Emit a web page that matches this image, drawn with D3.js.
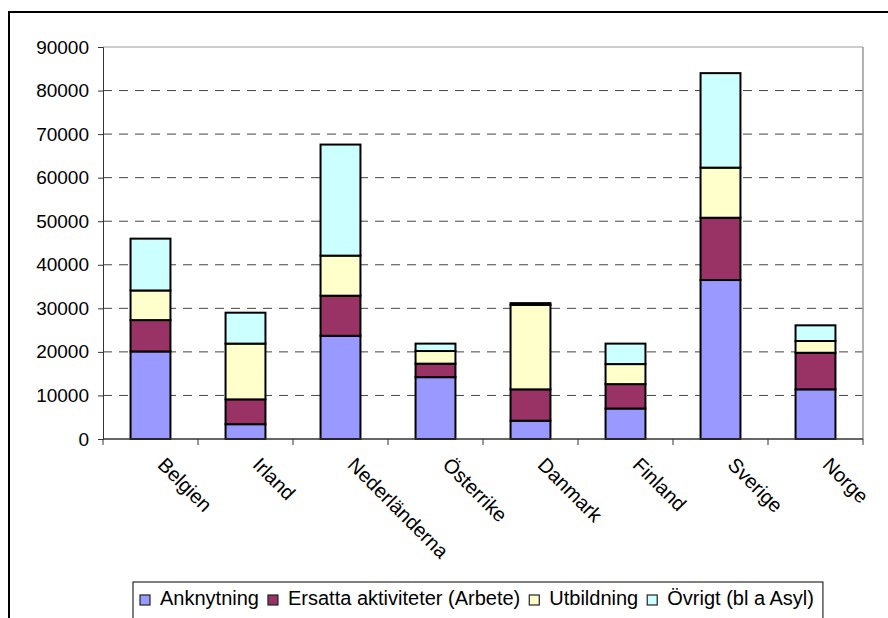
<!DOCTYPE html>
<html>
<head>
<meta charset="utf-8">
<script src="https://cdn.jsdelivr.net/npm/d3@7"></script>
<style>
  body { margin: 0; background: #fff; }
  svg { display: block; font-family: Arial, "Liberation Sans", sans-serif; }
</style>
</head>
<body>
<svg width="888" height="618"></svg>
<script>
// data
var countries = ["Belgien", "Irland", "Nederländerna", "Österrike", "Danmark", "Finland", "Sverige", "Norge"]
var seriesNames = ["Anknytning", "Ersatta aktiviteter (Arbete)", "Utbildning", "Övrigt (bl a Asyl)"]
var anknytning = [20100, 3400, 23700, 14200, 4200, 7000, 36500, 11400]
var ersatta    = [7200, 5700, 9200, 3100, 7200, 5600, 14300, 8400]
var utbildning = [6800, 12800, 9200, 2900, 19400, 4600, 11500, 2700]
var ovrigt     = [11900, 7100, 25500, 1700, 400, 4700, 21700, 3600]
var yTicks = [0, 10000, 20000, 30000, 40000, 50000, 60000, 70000, 80000, 90000]
var colors = ["#9999ff", "#993366", "#ffffcc", "#ccffff"]

var svg = d3.select("svg")

// outer chart frame (runs off the page right and bottom)
svg.append("rect")
  .attr("x", 9).attr("y", 12)
  .attr("width", 1000).attr("height", 800)
  .attr("fill", "none").attr("stroke", "#000").attr("stroke-width", 2)

var plotLeft = 103, plotRight = 863, plotTop = 47, plotBottom = 439

var x = d3.scaleBand().domain(countries).range([plotLeft, plotRight]).paddingInner(0.58).paddingOuter(0.29)
var y = d3.scaleLinear().domain([0, 90000]).range([plotBottom, plotTop])

// table for the stack
var table = countries.map(function(c, i) {
  return { country: c, s0: anknytning[i], s1: ersatta[i], s2: utbildning[i], s3: ovrigt[i] }
})
var stack = d3.stack().keys(["s0", "s1", "s2", "s3"])(table)

// gridlines
svg.append("g")
  .selectAll("line")
  .data(yTicks.filter(function(t) { return t > 0 && t < 90000 }))
  .join("line")
  .attr("x1", plotLeft).attr("x2", plotRight)
  .attr("y1", function(d) { return y(d) }).attr("y2", function(d) { return y(d) })
  .attr("stroke", "#444").attr("stroke-width", 1)
  .attr("stroke-dasharray", "9,7")

// plot area top and right edges
svg.append("line").attr("x1", plotLeft).attr("x2", plotRight).attr("y1", plotTop).attr("y2", plotTop)
  .attr("stroke", "#999").attr("stroke-width", 1)
svg.append("line").attr("x1", plotRight).attr("x2", plotRight).attr("y1", plotTop).attr("y2", plotBottom)
  .attr("stroke", "#999").attr("stroke-width", 1.5)

// bars
svg.append("g")
  .selectAll("g")
  .data(stack)
  .join("g")
  .attr("fill", function(d, i) { return colors[i] })
  .selectAll("rect")
  .data(function(d) { return d })
  .join("rect")
  .attr("x", function(d) { return x(d.data.country) })
  .attr("width", x.bandwidth())
  .attr("y", function(d) { return y(d[1]) })
  .attr("height", function(d) { return y(d[0]) - y(d[1]) })
  .attr("stroke", "#000").attr("stroke-width", 2)

// y axis
var yAxis = svg.append("g")
  .attr("transform", "translate(" + plotLeft + ",0)")
  .call(d3.axisLeft(y).tickValues(yTicks).tickFormat(d3.format("d")).tickSize(5).tickPadding(9))
yAxis.select(".domain").attr("stroke", "#333")
yAxis.selectAll(".tick line").attr("stroke", "#333")
yAxis.selectAll("text").attr("font-size", 19).attr("fill", "#000")
  .attr("font-family", "Arial, 'Liberation Sans', sans-serif")

// x axis, ticks between categories
var bandStep = (plotRight - plotLeft) / countries.length
var xAxis = svg.append("g")
xAxis.append("line").attr("x1", plotLeft).attr("x2", plotRight).attr("y1", plotBottom).attr("y2", plotBottom)
  .attr("stroke", "#333").attr("stroke-width", 1.5)
xAxis.selectAll("line.tk")
  .data(d3.range(countries.length + 1))
  .join("line").attr("class", "tk")
  .attr("x1", function(d) { return plotLeft + d * bandStep }).attr("x2", function(d) { return plotLeft + d * bandStep })
  .attr("y1", plotBottom).attr("y2", plotBottom + 6)
  .attr("stroke", "#333")

xAxis.selectAll("text")
  .data(countries)
  .join("text")
  .attr("transform", function(d) {
    return "translate(" + (x(d) + x.bandwidth() / 2 + 6) + "," + (plotBottom + 27) + ") rotate(45)"
  })
  .attr("font-size", 20)
  .text(function(d) { return d })

// legend
var legend = svg.append("g")
var lx = 140
seriesNames.forEach(function(name, i) {
  var g = legend.append("g")
  g.append("rect").attr("x", lx).attr("y", 595).attr("width", 10).attr("height", 10)
    .attr("fill", colors[i]).attr("stroke", "#222").attr("stroke-width", 1.2)
  var t = g.append("text").attr("x", lx + 20).attr("y", 605).attr("font-size", 20).text(name)
  lx = lx + 20 + t.node().getComputedTextLength() + 9
})
legend.insert("rect", ":first-child")
  .attr("x", 133).attr("y", 582)
  .attr("width", lx - 133).attr("height", 60)
  .attr("fill", "#fff").attr("stroke", "#000").attr("stroke-width", 1)
</script>
</body>
</html>
